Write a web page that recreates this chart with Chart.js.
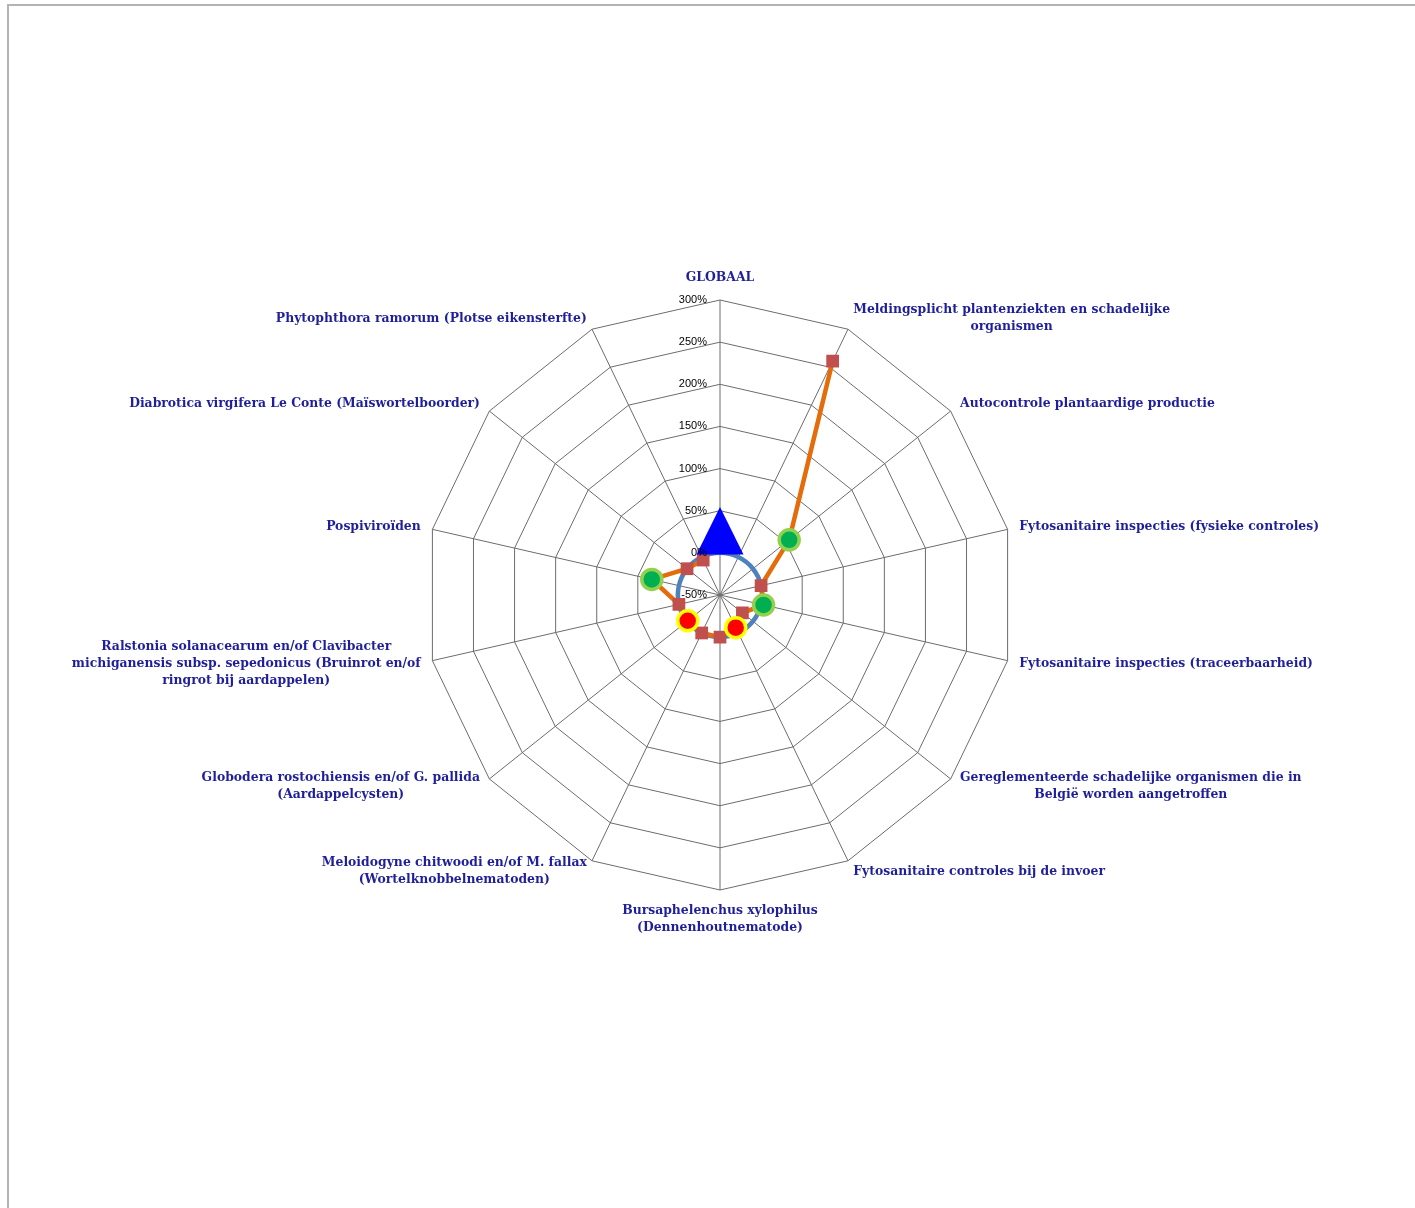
<!DOCTYPE html>
<html>
<head>
<meta charset="utf-8">
<script src="https://cdn.jsdelivr.net/npm/chart.js@4/dist/chart.umd.min.js"></script>
<style>
  html, body { margin: 0; padding: 0; background: #fff; overflow: hidden; }
  #frame { position: absolute; left: 7px; top: 4px; width: 1500px; height: 1300px; border: 2px solid #b4b4b4; }
  #radar { position: absolute; left: 0; top: 0; }
</style>
</head>
<body>
<div id="frame"></div>
<canvas id="radar" width="1415" height="1208"></canvas>
<script>
// categories, clockwise from the top
const categories = [
  ["GLOBAAL"],
  ["Meldingsplicht plantenziekten en schadelijke", "organismen"],
  ["Autocontrole plantaardige productie"],
  ["Fytosanitaire inspecties (fysieke controles)"],
  ["Fytosanitaire inspecties (traceerbaarheid)"],
  ["Gereglementeerde schadelijke organismen die in", "België worden aangetroffen"],
  ["Fytosanitaire controles bij de invoer"],
  ["Bursaphelenchus xylophilus", "(Dennenhoutnematode)"],
  ["Meloidogyne chitwoodi en/of M. fallax", "(Wortelknobbelnematoden)"],
  ["Globodera rostochiensis en/of G. pallida", "(Aardappelcysten)"],
  ["Ralstonia solanacearum en/of Clavibacter", "michiganensis subsp. sepedonicus (Bruinrot en/of", "ringrot bij aardappelen)"],
  ["Pospiviroïden"],
  ["Diabrotica virgifera Le Conte (Maïswortelboorder)"],
  ["Phytophthora ramorum (Plotse eikensterfte)"]
];

// evolution per item (%)
const evolutie = [null, 258, 55, 0, 3, -16, -7, 0, 0, 0, 0, 33, 0, -4];
// reference line
const norm = [0, 0, 0, 0, 0, 0, 0, 0, 0, 0, 0, 0, 0, 0];
// favourable / unfavourable flags
const gunstig = [null, null, 55, null, 3, null, null, null, null, null, null, 33, null, null];
const ongunstig = [null, null, null, null, null, null, -7, null, null, -1, null, null, null, null];
const globaal = [26, null, null, null, null, null, null, null, null, null, null, null, null, null];

const tickValues = [-50, 0, 50, 100, 150, 200, 250, 300];

// triangle marker, centred on its box like the original
const triangle = document.createElement('canvas');
triangle.width = 48;
triangle.height = 48;
(function () {
  const t = triangle.getContext('2d');
  t.fillStyle = '#0000ff';
  t.beginPath();
  t.moveTo(24, 0);
  t.lineTo(47.5, 47.5);
  t.lineTo(0.5, 47.5);
  t.closePath();
  t.fill();
})();

// draws tick labels left of the top spoke and the category labels
const labelsPlugin = {
  id: 'radarLabels',
  afterDraw: (chart) => {
    const ctx = chart.ctx;
    const scale = chart.scales.r;
    ctx.save();

    ctx.fillStyle = '#000';
    ctx.font = '11px "Liberation Sans", Arial, sans-serif';
    ctx.textAlign = 'right';
    ctx.textBaseline = 'middle';
    tickValues.forEach(v => {
      const d = scale.getDistanceFromCenterForValue(v);
      ctx.fillText(v + '%', scale.xCenter - 13, scale.yCenter - d);
    });

    ctx.fillStyle = '#1f1f9a';
    ctx.font = 'bold 12.4px "DejaVu Serif", serif';
    ctx.textAlign = 'center';
    const lh = 17;
    const n = categories.length;
    categories.forEach((lines, i) => {
      const widths = lines.map(l => ctx.measureText(l).width);
      const w = Math.max(...widths);
      const h = lines.length * lh;
      let cx, top;
      if (i === 0) {
        const p = scale.getPointPosition(i, scale.drawingArea + 14);
        cx = p.x; top = p.y - h;
      } else if (i === n / 2) {
        const p = scale.getPointPosition(i, scale.drawingArea + 12);
        cx = p.x; top = p.y;
      } else {
        const p = scale.getPointPosition(i, scale.drawingArea + 12);
        cx = i < n / 2 ? p.x + w / 2 : p.x - w / 2;
        top = p.y - h / 2;
      }
      lines.forEach((l, k) => {
        ctx.fillText(l, cx, top + k * lh + lh / 2);
      });
    });
    ctx.restore();
  }
};

const radarData = {
  labels: categories.map(c => c.join(' ')),
  datasets: [
    {
      label: 'Globaal',
      data: globaal,
      showLine: false,
      order: 0,
      pointStyle: triangle,
      pointRadius: 24,
      pointHoverRadius: 24
    },
    {
      label: 'Gunstig',
      data: gunstig,
      showLine: false,
      order: 0,
      pointStyle: 'circle',
      pointRadius: 10,
      pointHoverRadius: 10,
      pointBackgroundColor: '#00b050',
      pointBorderColor: '#92d050',
      pointBorderWidth: 3.5
    },
    {
      label: 'Ongunstig',
      data: ongunstig,
      showLine: false,
      order: 0,
      pointStyle: 'circle',
      pointRadius: 10,
      pointHoverRadius: 10,
      pointBackgroundColor: '#ff0000',
      pointBorderColor: '#ffff00',
      pointBorderWidth: 3.5
    },
    {
      label: 'Evolutie',
      data: evolutie,
      order: 1,
      borderColor: '#e46c0a',
      borderWidth: 4.5,
      fill: false,
      tension: 0,
      pointStyle: 'rect',
      pointRadius: 9,
      pointHoverRadius: 9,
      pointBackgroundColor: '#c0504d',
      pointBorderColor: '#c0504d',
      pointBorderWidth: 0
    },
    {
      label: 'Norm',
      data: norm,
      order: 2,
      borderColor: '#4f81bd',
      borderWidth: 4.5,
      fill: false,
      tension: 0.35,
      pointRadius: 0,
      pointHoverRadius: 0
    }
  ]
};

const radarConfig = {
  type: 'radar',
  data: radarData,
  plugins: [labelsPlugin],
  options: {
    responsive: false,
    animation: false,
    layout: { padding: { left: 425, right: 400, top: 300, bottom: 318 } },
    plugins: {
      legend: { display: false },
      tooltip: { enabled: false }
    },
    scales: {
      r: {
        min: -50,
        max: 300,
        ticks: { stepSize: 50, display: false },
        grid: { color: '#6c6c6c', lineWidth: 1 },
        angleLines: { color: '#6c6c6c', lineWidth: 1 },
        pointLabels: { display: false }
      }
    }
  }
};

const radarCanvas = document.getElementById("radar").getContext("2d");
const radarChart = new Chart(radarCanvas, radarConfig);
</script>
</body>
</html>
